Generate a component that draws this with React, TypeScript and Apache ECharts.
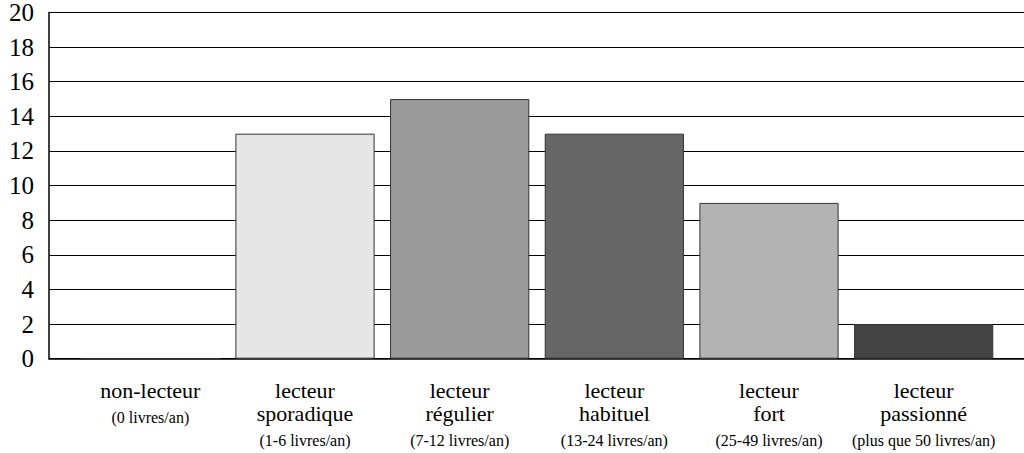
import React, { useEffect, useRef } from "react";
import * as echarts from "echarts";

const categoryLines: string[][] = [
  ["non-lecteur"],
  ["lecteur", "sporadique"],
  ["lecteur", "régulier"],
  ["lecteur", "habituel"],
  ["lecteur", "fort"],
  ["lecteur", "passionné"],
];
const categoryNotes: string[] = [
  "(0 livres/an)",
  "(1-6 livres/an)",
  "(7-12 livres/an)",
  "(13-24 livres/an)",
  "(25-49 livres/an)",
  "(plus que 50 livres/an)",
];
const values: number[] = [0, 13, 15, 13, 9, 2];
const barColors: string[] = ["#ffffff", "#e6e6e6", "#9a9a9a", "#666666", "#b3b3b3", "#444444"];

const FONT = "Liberation Serif";

export default function App() {
  const ref = useRef<HTMLDivElement>(null);
  useEffect(() => {
    if (!ref.current) return;
    const chart = echarts.init(ref.current, undefined, { renderer: "svg" });
    const labels = categoryLines.map((lines, i) =>
      lines.map((l) => `{a|${l}}`).join("\n") + `\n{b|${categoryNotes[i]}}`
    );
    chart.setOption({
      animation: false,
      backgroundColor: "#ffffff",
      textStyle: { fontFamily: FONT },
      grid: [
        { left: 49, right: 0, top: 12.5, bottom: 94.3 },
        { left: 73, right: 23, top: 12.5, bottom: 94.3 },
      ],
      xAxis: [
        {
          type: "category",
          gridIndex: 0,
          data: labels,
          axisLine: { show: true, lineStyle: { color: "#000", width: 1.5 } },
          axisTick: { show: false },
          axisLabel: { show: false },
          splitLine: { show: false },
        },
        {
          type: "category",
          gridIndex: 1,
          data: labels,
          axisLine: { show: false },
          axisTick: { show: false },
          splitLine: { show: false },
          axisLabel: {
            interval: 0,
            margin: 20,
            color: "#000",
            fontFamily: FONT,
            fontSize: 22,
            rich: {
              a: { fontSize: 22, lineHeight: 23, fontFamily: FONT, color: "#000" },
              b: { fontSize: 16, lineHeight: 31, fontFamily: FONT, color: "#000" },
            },
          },
        },
      ],
      yAxis: [
        {
          type: "value",
          gridIndex: 0,
          min: 0,
          max: 20,
          interval: 2,
          axisLine: { show: true, lineStyle: { color: "#000", width: 1.5 } },
          axisTick: { show: false },
          axisLabel: { margin: 15, fontSize: 25, color: "#000", fontFamily: FONT },
          splitLine: { show: true, lineStyle: { color: "#000", width: 1 } },
        },
        {
          type: "value",
          gridIndex: 1,
          min: 0,
          max: 20,
          interval: 2,
          show: false,
          splitLine: { show: false },
        },
      ],
      series: [
        {
          type: "bar",
          xAxisIndex: 1,
          yAxisIndex: 1,
          barCategoryGap: "10%",
          data: values.map((v, i) => ({
            value: v,
            itemStyle: { color: barColors[i], borderColor: "#333", borderWidth: 1 },
          })),
          z: 3,
        },
      ],
    });
    return () => chart.dispose();
  }, []);
  return <div ref={ref} style={{ width: 1024, height: 453, position: "absolute", left: 0, top: 0 }} />;
}
